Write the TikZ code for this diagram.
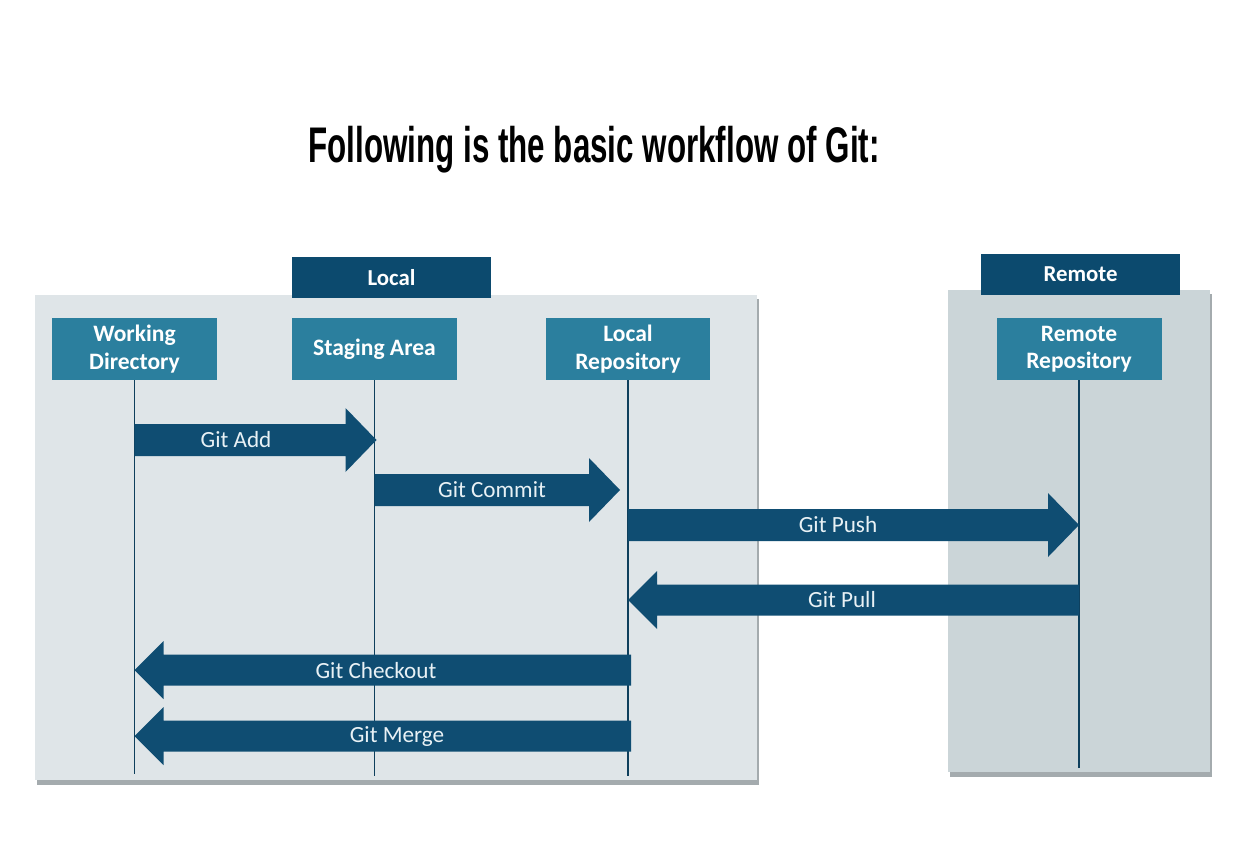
\documentclass[tikz,border=0pt]{standalone}
\usepackage{fontspec}
\setmainfont{Carlito}
\newfontfamily\titlefont[FakeStretch=0.626]{Liberation Sans}
\usetikzlibrary{calc}
\definecolor{panelL}{HTML}{DFE5E8}
\definecolor{panelR}{HTML}{CBD5D8}
\definecolor{shadowc}{HTML}{A4ABAE}
\definecolor{navy}{HTML}{0C4A6E}
\definecolor{teal}{HTML}{2B7F9E}
\definecolor{arrowc}{HTML}{0F4D72}
\definecolor{lifec}{HTML}{0E3F5C}
\definecolor{labc}{HTML}{E8F1F5}
\tikzset{
  header/.style={fill=navy,text=white,font=\fontsize{13}{15}\selectfont\bfseries,minimum width=3.98cm,minimum height=0.82cm,inner sep=0pt},
  actor/.style={fill=teal,text=white,font=\fontsize{13.4}{15.6}\selectfont\bfseries,minimum width=3.3cm,minimum height=1.24cm,inner sep=0pt,align=center},
  life/.style={draw=lifec,line width=1.1pt},
  arr/.style={fill=arrowc},
  alabel/.style={text=labc,font=\fontsize{13.2}{15}\selectfont,inner sep=0pt}
}
% right arrow: #1 start coord, #2 end coord
\newcommand\fatR[2]{\fill[arr] ($(#1)+(0,-16)$) -- ($(#2)+(-31,-16)$) -- ($(#2)+(-31,-32)$) -- (#2) -- ($(#2)+(-31,32)$) -- ($(#2)+(-31,16)$) -- ($(#1)+(0,16)$) -- cycle;}
\newcommand\fatL[2]{\fill[arr] ($(#1)+(0,-15.5)$) -- ($(#2)+(29,-15.5)$) -- ($(#2)+(29,-29)$) -- (#2) -- ($(#2)+(29,29)$) -- ($(#2)+(29,15.5)$) -- ($(#1)+(0,15.5)$) -- cycle;}
\begin{document}
\begin{tikzpicture}[x=0.02cm,y=-0.02cm]
\useasboundingbox[fill=white] (0,0) rectangle (1240,858);
% title
\node[font=\titlefont\bfseries\fontsize{28.5}{32}\selectfont] (title) at (594,150) {Following is the basic workflow of Git:};
% panels
\fill[shadowc] (37,299) rectangle (759,785);
\fill[panelL] (35,295) rectangle (757,780);
\fill[shadowc] (950,294) rectangle (1212,777);
\fill[panelR] (948,290) rectangle (1210,772);
% headers
\node[header] (local) at (391.5,277.5) {Local};
\node[header] (remote) at (1080.5,274.5) {Remote};
% actors
\node[actor] (WD) at (134.5,349) {Working\\Directory};
\node[actor] (SA) at (374.5,349) {Staging Area};
\node[actor] (LR) at (628,349) {Local\\Repository};
\node[actor] (RR) at (1079,349) {Remote\\Repository};
% lifeline ends
\coordinate (WDe) at (WD.south |- 0,774);
\coordinate (SAe) at (SA.south |- 0,776);
\coordinate (LRe) at (LR.south |- 0,776);
\coordinate (RRe) at (RR.south |- 0,768);
\draw[life] (WD.south) -- (WDe);
\draw[life] (SA.south) -- (SAe);
\draw[life] (LR.south) -- (LRe);
\draw[life] (RR.south) -- (RRe);
% arrow end points
\coordinate (addA) at (WD.south |- 0,440);
\coordinate (addB) at ($(SA.south |- 0,440)+(2,0)$);
\coordinate (comA) at (SA.south |- 0,490);
\coordinate (comB) at ($(LR.south |- 0,490)+(-8,0)$);
\coordinate (pushA) at (LR.south |- 0,525);
\coordinate (pushB) at (RR.south |- 0,525);
\coordinate (pullA) at (RR.south |- 0,600);
\coordinate (pullB) at (LR.south |- 0,600);
\coordinate (coA) at ($(LR.south |- 0,670)+(3,0)$);
\coordinate (coB) at (WD.south |- 0,670);
\coordinate (meA) at ($(LR.south |- 0,736)+(3,0)$);
\coordinate (meB) at (WD.south |- 0,736);
\fatR{addA}{addB}
\fatR{comA}{comB}
\fatR{pushA}{pushB}
\fatL{pullA}{pullB}
\fatL{coA}{coB}
\fatL{meA}{meB}
\node[alabel] (lAdd) at (236,440) {Git Add};
\node[alabel] (lCom) at (492,490) {Git Commit};
\node[alabel] (lPush) at (838,525) {Git Push};
\node[alabel] (lPull) at (842,600) {Git Pull};
\node[alabel] (lCo) at (376,671) {Git Checkout};
\node[alabel] (lMe) at (397,737) {Git Merge};
\end{tikzpicture}
\end{document}
